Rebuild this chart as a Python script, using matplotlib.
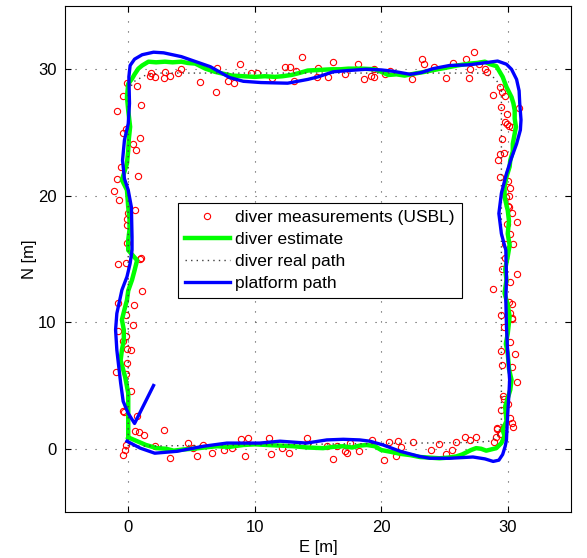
import matplotlib
matplotlib.use('Agg')
import matplotlib.pyplot as plt
import numpy as np

plt.rcParams['font.family'] = ['Liberation Sans', 'DejaVu Sans']
plt.rcParams['font.size'] = 12

# USBL position fixes of the diver [E, N] in metres
meas_e = [
    -0.4, -0.25, -0.15, 2.1, 0.55, 0.85, 1.25, 2.85, 0.7, -0.4, -0.3, 0.25,
    -0.2, -1.0, -0.1, 0.2, -0.1, -0.45, -0.2, -0.8, 0.4, -0.2, 0.45, -0.8,
    1.1, -0.8, -0.15, 0.9, 1.0, -0.1, -0.1, -0.1, 0.0, 0.55, -0.7, -1.1,
    -0.9, 0.8, -0.6, 0.65, 0.4, 0.9, -0.45, -0.2, -0.9, 1.0, -0.4, 0.7,
    -0.1,
    3.3, 4.7, 5.1, 5.4, 5.9, 6.65, 7.6, 8.2, 8.95, 9.5, 9.25, 11.1, 11.25,
    12.15, 12.7, 14.1, 14.15, 15.75, 16.15, 16.5, 17.1, 17.3, 17.5, 18.25,
    19.3, 20.2, 20.6, 21.15, 21.35, 21.6, 22.5, 23.9, 24.6, 25.15, 25.6,
    25.9, 26.6, 27.05, 27.5, 28.95, 29.05, 29.15, 29.45, 29.7, 30.15, 30.3,
    30.45, 29.5, 29.6, 29.7, 30.0, 30.7, 29.15, 29.4,
    29.55, 30.3, 30.55, 29.5, 30.15, 29.7, 30.35, 30.3, 30.15, 29.5, 30.3,
    30.1, 28.85, 30.15, 30.75, 29.55, 29.75, 29.8, 30.45, 30.15, 29.95,
    30.7, 30.35, 30.0, 30.1, 29.9, 30.1, 30.15, 30.0, 29.35, 29.25, 29.4,
    29.7, 29.55, 29.8, 29.95, 30.1, 30.3, 29.95, 29.5, 30.9, 28.8, 29.55,
    29.8, 29.4,
    1.8, 1.7, 2.1, 2.9, 2.8, 3.3, 3.9, 4.2, 5.7, 6.9, 7.0, 7.9, 8.4, 8.8,
    9.7, 10.2, 11.4, 12.4, 12.8, 13.1, 13.3, 13.7, 15.0, 14.9, 15.8, 16.2,
    17.1, 18.2, 18.6, 19.2, 19.4, 19.4, 20.3, 20.7, 22.45, 23.2, 23.4, 24.2,
    25.1, 25.7, 26.7, 27.3, 26.9, 27.05, 27.7, 28.2, 28.4,
]
meas_n = [
    -0.5, -0.1, 0.3, 0.2, 1.4, 1.35, 1.1, 1.5, 2.6, 3.0, 2.9, 4.6,
    5.9, 6.1, 6.8, 7.8, 7.9, 8.5, 8.9, 9.3, 9.8, 10.6, 11.4, 11.5,
    12.5, 14.6, 14.7, 15.0, 15.1, 16.3, 17.7, 18.2, 18.6, 18.9, 19.7, 20.4,
    21.3, 21.6, 22.3, 23.6, 24.1, 24.6, 25.0, 25.3, 26.7, 27.2, 27.9, 28.7,
    28.9,
    -0.7, 0.45, 0.05, -0.6, 0.3, -0.35, -0.1, 0.1, 0.75, 0.85, -0.55, 0.85, -0.45,
    0.1, -0.3, 0.85, 0.4, 0.25, -0.8, 0.25, -0.15, -0.35, 0.45, -0.15,
    0.7, -0.9, 0.5, -0.55, 0.65, 0.13, 0.55, -0.13, 0.35, -0.4, -0.13,
    0.5, 0.95, 0.7, 0.9, 0.5, 0.9, 1.6, 1.15, 1.75, 2.4, 2.0,
    1.75, 3.1, 4.2, 3.9, 3.5, 5.3, 1.65, 1.2,
    6.6, 6.5, 7.5, 7.7, 8.45, 9.6, 10.25, 10.35, 10.7, 10.6, 11.45,
    11.6, 12.6, 13.15, 13.85, 14.25, 15.05, 16.2, 16.2, 17.0, 17.8,
    17.95, 18.6, 19.2, 19.1, 19.9, 20.0, 20.65, 21.2, 21.5, 22.8, 23.3,
    23.4, 24.5, 25.85, 25.7, 25.5, 25.4, 26.5, 27.0, 26.9, 28.0, 28.2,
    27.9, 28.6,
    29.7, 29.5, 29.4, 29.8, 29.3, 29.5, 29.7, 30.0, 29.0, 28.2, 30.1, 29.1, 28.9, 30.4,
    29.7, 29.7, 29.3, 30.2, 30.2, 29.1, 29.9, 31.0, 30.1, 29.4, 29.35, 30.6,
    29.6, 30.4, 29.2, 29.5, 29.4, 30.0, 29.6, 29.9, 29.2, 30.8, 30.4, 30.2,
    29.3, 30.5, 30.8, 31.4, 29.3, 30.0, 30.4, 30.0, 29.8,
]

# filtered diver position [E, N] (estimator output)
estimate = [
    # southern leg
    (0.0, 0.9), (0.7, 0.6), (1.4, 0.3), (2.25, 0.05), (3.0, 0.0), (3.6, -0.15),
    (4.4, -0.05), (5.15, 0.0), (6.0, 0.1), (7.0, 0.2), (8.0, 0.15), (9.1, 0.3),
    (10.0, 0.35), (10.95, 0.3), (12.0, 0.25), (13.05, 0.2), (14.2, 0.1),
    (15.4, 0.05), (16.2, 0.15), (17.0, 0.2), (17.7, 0.1), (18.3, 0.25),
    (18.85, 0.3), (19.5, 0.2), (20.0, -0.1), (20.8, -0.25), (21.5, -0.4),
    (22.3, -0.5), (23.05, -0.65), (23.8, -0.7), (24.6, -0.75), (25.3, -0.7),
    (25.95, -0.6), (26.4, -0.45), (26.7, -0.3), (27.1, -0.1), (27.5, 0.05),
    (27.9, 0.0), (28.3, -0.15), (28.7, -0.05), (29.1, 0.05), (29.5, 0.45),
    # eastern leg
    (29.75, 1.0), (29.6, 1.5), (29.9, 2.2), (29.8, 3.35), (30.0, 4.0),
    (30.2, 4.65), (30.3, 5.45), (30.1, 6.3), (30.0, 7.55), (29.85, 8.3),
    (30.0, 9.1), (30.15, 10.45), (30.0, 11.4), (29.75, 12.3), (29.9, 13.35),
    (29.8, 14.2), (30.0, 15.2), (30.15, 16.1), (30.0, 17.0), (30.1, 18.0),
    (30.0, 18.85), (29.75, 19.9), (29.75, 20.7), (29.9, 21.5), (30.15, 22.3),
    (30.2, 22.8), (30.4, 23.5), (30.4, 24.1), (30.65, 25.45), (30.55, 26.1),
    (30.55, 26.75), (30.45, 27.3), (30.3, 27.8), (30.1, 28.2), (29.9, 28.6),
    (29.6, 29.4), (29.1, 30.25),
    # northern leg
    (28.6, 30.4), (28.2, 30.6), (27.6, 30.5), (27.0, 30.45), (26.0, 30.3),
    (25.0, 30.1), (24.2, 29.95), (23.45, 29.8), (22.6, 29.65), (21.85, 29.5),
    (21.2, 29.6), (20.55, 29.55), (20.0, 29.8), (19.5, 30.0), (18.5, 30.05),
    (17.4, 30.05), (16.8, 30.0), (16.1, 30.0), (15.1, 29.95), (14.2, 29.9),
    (13.5, 29.7), (12.9, 29.55), (12.2, 29.45), (11.6, 29.4), (10.8, 29.45),
    (10.0, 29.4), (9.1, 29.45), (8.2, 29.5), (7.5, 29.65), (6.85, 29.8),
    (6.1, 30.05), (5.3, 30.45), (4.7, 30.5), (4.2, 30.6), (3.5, 30.55),
    (2.9, 30.6), (2.2, 30.55), (1.6, 30.6), (1.1, 30.3), (0.8, 30.05),
    (0.5, 29.6), (0.3, 29.25),
    # western leg
    (0.0, 28.85), (-0.1, 27.8), (0.0, 26.75), (0.15, 25.45), (0.05, 24.5),
    (0.0, 23.6), (-0.1, 22.55), (-0.5, 21.25), (-0.1, 20.45), (0.0, 19.1),
    (0.1, 18.2), (0.1, 17.3), (0.0, 16.5), (0.0, 15.7), (0.7, 14.9),
    (0.5, 14.1), (0.3, 13.35), (0.0, 12.5), (-0.1, 11.75), (-0.3, 11.0),
    (-0.5, 10.2), (-0.35, 9.4), (-0.35, 8.6), (-0.5, 7.8), (-0.6, 7.0),
    (-0.25, 5.7), (0.0, 4.4), (0.0, 3.1), (0.0, 2.0), (0.0, 0.9),
]
est_e = [p[0] for p in estimate]
est_n = [p[1] for p in estimate]

# true diver track
real_e = [0.0, 0.0, 0.4, 1.3, 2.5, 28.0, 29.0, 29.5, 29.5, 29.2, 28.5, 27.5, 0.0]
real_n = [0.2, 28.2, 29.0, 29.5, 29.7, 29.7, 29.3, 28.5, 2.0, 1.0, 0.6, 0.5, 0.2]

# surface platform track
plat_e = [
    -0.1, 0.95, 2.1, 3.85, 5.95, 7.8, 10.4, 12.0, 14.1, 15.7, 17.0, 18.3,
    19.1, 20.15, 21.5, 23.0, 23.85, 25.4, 27.25, 28.2, 28.85, 29.3, 29.6,
    29.8, 29.9, 29.95, 30.0, 30.1, 30.15, 30.0, 29.9, 29.85, 29.9, 29.85,
    29.5, 29.3, 29.5, 29.9, 30.3, 30.7, 31.0, 31.05, 30.95, 30.9, 30.7,
    30.3, 29.9, 29.2, 28.1, 26.9, 25.4, 24.1, 23.2, 22.3, 20.9, 20.0, 18.8,
    17.4, 16.2, 15.0, 14.2, 12.6, 10.5, 9.1, 8.0, 7.2, 6.5, 5.2, 4.2, 2.8,
    2.0, 1.1, 0.5, 0.15, 0.05, 0.1, 0.0, -0.3, -0.45, -0.3, 0.0, 0.25, 0.3,
    0.3, 0.15, -0.1, -0.5, -0.9, -1.0, -0.9, -0.75, -0.6, -0.4, 0.0, 0.5,
    2.0,
]
plat_n = [
    0.6, 0.05, -0.35, -0.2, 0.2, 0.45, 0.45, 0.6, 0.45, 0.7, 0.75, 0.7,
    0.6, 0.3, -0.2, -0.6, -0.75, -0.75, -0.65, -0.8, -1.0, -0.9, -0.45,
    0.2, 0.7, 1.8, 2.8, 4.4, 5.45, 7.55, 9.65, 11.75, 13.6, 15.7,
    17.0, 18.6, 20.2, 21.75, 23.0, 24.1, 25.2, 26.0, 27.3, 28.3, 29.2,
    30.0, 30.4, 30.65, 30.5, 30.35, 30.3, 30.05, 29.75, 29.6, 29.85, 29.95, 30.0,
    29.9, 29.8, 29.4, 29.2, 28.9, 28.95, 29.05, 29.35, 29.8, 30.2, 30.65, 31.0, 31.3,
    31.35, 31.15, 30.8, 30.3, 29.4, 27.3, 25.7, 24.4, 22.8, 21.35, 20.45, 19.1, 16.75,
    15.7, 14.65, 13.6, 12.55, 10.7, 9.4, 7.8, 6.5, 5.2, 3.75, 2.8, 2.0,
    5.0,
]

fig = plt.figure(figsize=(5.87, 5.58), dpi=100)
ax = fig.add_axes([0.1107, 0.0824, 0.862, 0.9068])

ax.plot(meas_e, meas_n, 'o', color='red', mfc='none', ms=4.5, mew=0.8,
        label='diver measurements (USBL)')
ax.plot(est_e, est_n, color='#00ff00', lw=3.2, label='diver estimate')
ax.plot(real_e, real_n, color='0.25', lw=1.0, linestyle=(0, (1, 3)),
        label='diver real path')
ax.plot(plat_e, plat_n, color='#0000ff', lw=2.4, label='platform path')

ax.set_xlim(-5, 35)
ax.set_ylim(-5, 35)
ax.set_xticks([0, 10, 20, 30])
ax.set_yticks([0, 10, 20, 30])
ax.grid(True, color='0.3', lw=0.8, linestyle=(0, (1, 8)))
ax.set_axisbelow(True)
ax.tick_params(direction='in', length=4, top=True, right=True, labelsize=12,
               pad=6)
for s in ax.spines.values():
    s.set_linewidth(0.8)

ax.set_xlabel('E [m]', fontsize=12, labelpad=3)
ax.set_ylabel('N [m]', fontsize=12, labelpad=1)

leg = ax.legend(loc='upper left', bbox_to_anchor=(0.223, 0.611), numpoints=1,
                fancybox=False, framealpha=1, edgecolor='black',
                handlelength=2.6, handletextpad=0.3, labelspacing=0.4,
                borderpad=0.4, borderaxespad=0, fontsize=12.5)
leg.get_frame().set_linewidth(0.8)

fig.savefig('out.png', dpi=100)
